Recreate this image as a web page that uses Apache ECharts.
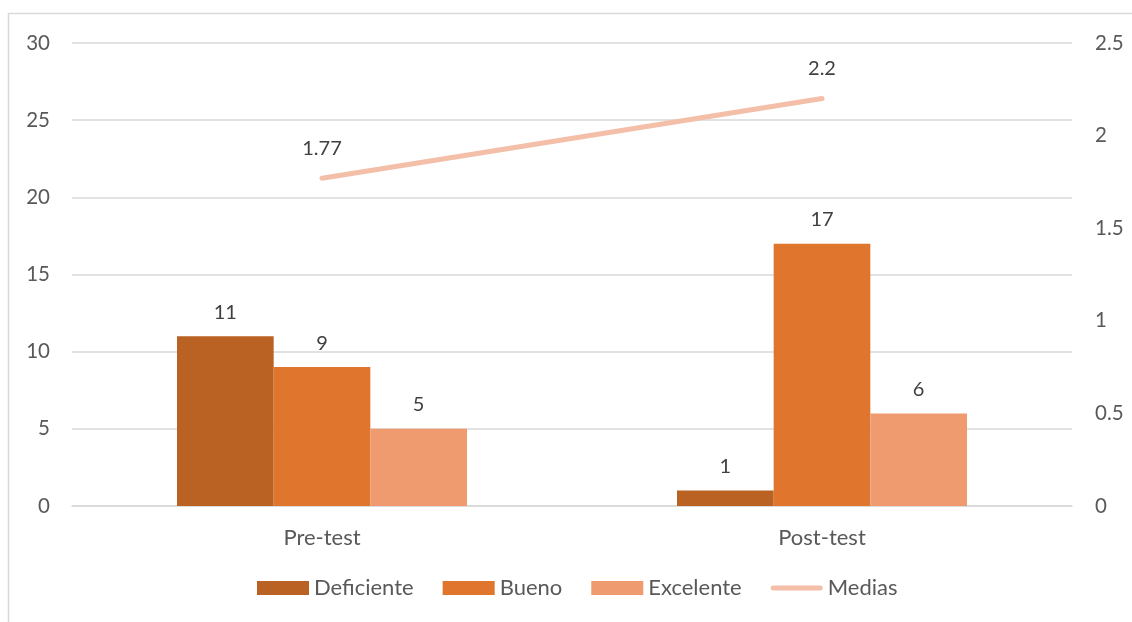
<!DOCTYPE html>
<html>
<head>
<meta charset="utf-8">
<script src="https://cdn.jsdelivr.net/npm/echarts@6/dist/echarts.min.js"></script>
<style>
  html, body { margin: 0; padding: 0; background: #ffffff; }
  #chart { width: 1132px; height: 622px; }
</style>
</head>
<body>
<div id="chart"></div>
<script>
// Categories and series values
const categories = ['Pre-test', 'Post-test'];
const deficiente = [11, 1];
const bueno = [9, 17];
const excelente = [5, 6];
const medias = [1.77, 2.2];

// Axis tick ranges
const leftMax = 30, leftStep = 5;
const rightMax = 2.5, rightStep = 0.5;

const FONT = 'Lato, "Open Sans", sans-serif';
const labelStyle = { color: '#404040', fontSize: 20, fontFamily: FONT };
const LINE_ICON = 'path://M2.5,0 H49.5 A2.5,2.5 0 0 1 49.5,5 H2.5 A2.5,2.5 0 0 1 2.5,0 Z';

const chart = echarts.init(document.getElementById('chart'));

function barSeries(name, data, color) {
  return {
    name: name,
    type: 'bar',
    data: data,
    yAxisIndex: 0,
    barGap: '0%',
    barCategoryGap: '42%',
    itemStyle: { color: color },
    label: Object.assign({ show: true, position: 'top', distance: 14 }, labelStyle),
    emphasis: { disabled: true }
  };
}

chart.setOption({
  backgroundColor: '#ffffff',
  animation: false,
  grid: { left: 72, right: 60, top: 43, bottom: 116 },
  legend: {
    left: 252,
    bottom: 18,
    itemWidth: 52,
    itemHeight: 14,
    itemGap: 29,
    textStyle: { color: '#595959', fontSize: 22, fontFamily: FONT },
    data: [
      { name: 'Deficiente', icon: 'rect' },
      { name: 'Bueno', icon: 'rect' },
      { name: 'Excelente', icon: 'rect' },
      { name: 'Medias', icon: LINE_ICON }
    ]
  },
  xAxis: {
    type: 'category',
    data: categories,
    axisLine: { lineStyle: { color: '#D9D9D9', width: 1.5 } },
    axisTick: { show: false },
    axisLabel: { color: '#595959', fontSize: 22, fontFamily: FONT, margin: 21 }
  },
  yAxis: [
    {
      type: 'value',
      min: 0, max: leftMax, interval: leftStep,
      axisLine: { show: false },
      axisTick: { show: false },
      axisLabel: { color: '#595959', fontSize: 20.5, fontFamily: FONT, margin: 22 },
      splitLine: { lineStyle: { color: '#D9D9D9', width: 1.5 } }
    },
    {
      type: 'value',
      min: 0, max: rightMax, interval: rightStep,
      axisLine: { show: false },
      axisTick: { show: false },
      axisLabel: { color: '#595959', fontSize: 20.5, fontFamily: FONT, margin: 23 },
      splitLine: { show: false }
    }
  ],
  series: [
    barSeries('Deficiente', deficiente, '#BA6124'),
    barSeries('Bueno', bueno, '#E0752D'),
    barSeries('Excelente', excelente, '#F09A70'),
    {
      name: 'Medias',
      type: 'line',
      data: medias,
      yAxisIndex: 1,
      symbol: 'circle',
      symbolSize: 0.1,
      showSymbol: true,
      lineStyle: { color: '#F4BFA8', width: 5, cap: 'round' },
      itemStyle: { color: '#F4BFA8' },
      label: Object.assign({ show: true, position: 'top', distance: 20 }, labelStyle),
      emphasis: { disabled: true }
    }
  ],
  graphic: [
    {
      type: 'rect',
      shape: { x: 8.5, y: 13.5, width: 1140, height: 620 },
      style: { fill: 'none', stroke: '#D9D9D9', lineWidth: 1.5 },
      silent: true
    }
  ]
});
</script>
</body>
</html>
